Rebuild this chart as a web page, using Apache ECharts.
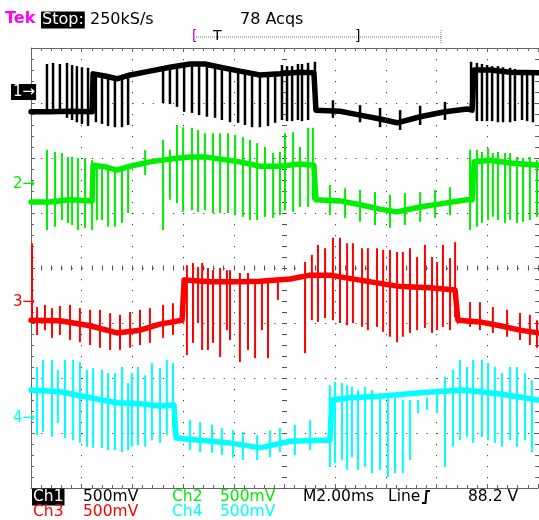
<!DOCTYPE html>
<html>
<head>
<meta charset="utf-8">
<title>Tek scope capture</title>
<script src="https://cdn.jsdelivr.net/npm/echarts@6/dist/echarts.min.js"></script>
<style>
  html, body { margin: 0; padding: 0; background: #fff; }
  #scope { width: 539px; height: 520px; }
</style>
</head>
<body>
<div id="scope"></div>
<script>
// x = time in ms (2 ms/div, 0 at screen centre), y = screen divisions (0 = centre line)

// channel 1 (black): slow envelope of the trace, then switching pulses [t, top, bottom]
const ch1Trace = [
  [-10, 2.84], [-9.25, 2.84], [-8.46, 2.85], [-7.59, 2.84], [-7.55, 3.53], [-7.08, 3.49],
  [-6.61, 3.44], [-6.09, 3.51], [-5.31, 3.58], [-4.52, 3.65], [-3.73, 3.71], [-3.14, 3.71],
  [-2.54, 3.65], [-1.76, 3.58], [-0.97, 3.51], [-0.18, 3.53], [0.61, 3.56], [1.16, 3.55],
  [1.24, 2.87], [2.19, 2.85], [2.98, 2.78], [3.77, 2.71], [4.44, 2.64], [5.35, 2.75],
  [6.33, 2.84], [7.20, 2.89], [7.40, 2.87], [7.48, 3.60], [8.11, 3.60], [8.90, 3.56], [10, 3.55]
];
const ch1Pulses = [
  [-9.37, 3.71, 2.84], [-9.13, 3.73, 2.84], [-8.86, 3.71, 2.80], [-8.58, 3.73, 2.73],
  [-8.38, 3.69, 2.69], [-8.19, 3.67, 2.65], [-7.99, 3.65, 2.62], [-7.75, 3.64, 2.58],
  [-7.44, 3.53, 2.65], [-7.20, 3.51, 2.62], [-6.96, 3.47, 2.58], [-6.69, 3.44, 2.56],
  [-6.41, 3.45, 2.56], [-6.17, 3.49, 2.60],
  [-4.79, 3.64, 3.00], [-4.52, 3.65, 2.98], [-4.24, 3.67, 2.93], [-3.96, 3.69, 2.84],
  [-3.65, 3.71, 2.82], [-3.37, 3.71, 2.78], [-3.06, 3.71, 2.75], [-2.74, 3.69, 2.73],
  [-2.47, 3.67, 2.69], [-2.15, 3.64, 2.65], [-1.83, 3.62, 2.64], [-1.56, 3.58, 2.60],
  [-1.28, 3.56, 2.56], [-0.97, 3.53, 2.56], [-0.65, 3.51, 2.58], [-0.37, 3.53, 2.64],
  [-0.10, 3.69, 2.69], [0.10, 3.67, 2.67], [0.30, 3.67, 2.67], [0.53, 3.71, 2.69],
  [0.69, 3.71, 2.67], [0.93, 3.73, 2.69], [1.20, 3.75, 2.87],
  [1.91, 3.05, 2.73], [2.98, 2.96, 2.65], [3.77, 2.91, 2.56], [4.56, 2.87, 2.51],
  [5.35, 2.95, 2.60], [6.33, 3.02, 2.69],
  [7.36, 3.75, 2.87], [7.59, 3.73, 2.67], [7.79, 3.71, 2.67], [7.99, 3.69, 2.67],
  [8.19, 3.67, 2.67], [8.42, 3.67, 2.65], [8.62, 3.65, 2.65], [8.90, 3.64, 2.65],
  [9.09, 3.62, 2.67], [9.37, 3.60, 2.69], [9.57, 3.60, 2.67], [9.80, 3.60, 2.65]
];

// channel 2 (green)
const ch2Trace = [
  [-10, 1.20], [-9.25, 1.20], [-8.46, 1.24], [-7.59, 1.22], [-7.55, 1.87], [-7.08, 1.84],
  [-6.61, 1.78], [-6.09, 1.85], [-5.31, 1.93], [-4.52, 1.98], [-3.73, 2.02], [-3.14, 2.02],
  [-2.54, 1.98], [-1.76, 1.93], [-0.97, 1.85], [-0.18, 1.85], [0.61, 1.89], [1.16, 1.87],
  [1.24, 1.24], [2.19, 1.22], [2.98, 1.15], [3.77, 1.07], [4.44, 1.02], [5.35, 1.11],
  [6.33, 1.18], [7.20, 1.24], [7.40, 1.24], [7.48, 1.93], [8.11, 1.96], [8.90, 1.91], [10, 1.87]
];
const ch2Pulses = [
  [-9.37, 2.15, 0.69], [-9.05, 2.11, 0.75], [-8.78, 2.09, 0.87], [-8.54, 2.02, 0.82],
  [-8.38, 2.02, 0.78], [-8.15, 2.00, 0.69], [-7.87, 2.00, 0.73], [-7.59, 1.96, 0.69],
  [-7.40, 1.87, 0.87], [-7.20, 1.87, 0.87], [-6.96, 1.84, 0.75], [-6.69, 1.78, 0.75],
  [-6.41, 1.82, 0.82], [-6.17, 1.85, 1.00], [-5.50, 2.15, 1.69],
  [-4.79, 2.33, 0.69], [-4.52, 2.15, 1.24], [-4.24, 2.60, 1.18], [-4.00, 2.56, 1.02],
  [-3.65, 2.55, 1.05], [-3.41, 2.51, 1.02], [-3.14, 2.45, 1.05], [-2.82, 2.45, 1.00],
  [-2.54, 2.45, 1.00], [-2.23, 2.45, 1.00], [-1.95, 2.42, 0.96], [-1.64, 2.38, 0.93],
  [-1.36, 2.33, 0.87], [-1.08, 2.27, 0.87], [-0.77, 2.20, 0.93], [-0.45, 2.09, 0.91],
  [-0.18, 2.11, 0.96], [0.02, 2.45, 1.05], [0.34, 2.47, 1.02], [0.61, 2.20, 1.11],
  [0.93, 2.55, 1.11], [1.12, 2.55, 1.24],
  [1.79, 1.51, 0.96], [2.39, 1.45, 0.91], [2.98, 1.42, 0.84], [3.57, 1.38, 0.78],
  [4.16, 1.33, 0.73], [4.75, 1.36, 0.78], [5.35, 1.38, 0.84], [5.94, 1.42, 0.91], [6.53, 1.47, 0.96],
  [7.32, 2.15, 0.69], [7.59, 2.15, 0.75], [7.79, 2.11, 0.82], [8.03, 2.18, 0.87],
  [8.22, 2.09, 0.93], [8.42, 2.11, 0.87], [8.70, 2.09, 0.82], [8.90, 2.09, 0.87],
  [9.17, 2.02, 0.82], [9.41, 2.00, 0.84], [9.68, 2.02, 0.87], [9.96, 1.96, 0.93]
];

// channel 3 (red)
const ch3Trace = [
  [-10, -0.95], [-8.86, -0.96], [-7.67, -1.05], [-6.61, -1.18], [-5.70, -1.13], [-4.91, -1.02],
  [-4.04, -0.95], [-3.96, -0.22], [-2.94, -0.25], [-1.76, -0.25], [-0.97, -0.24], [0.22, -0.20],
  [1.01, -0.13], [1.79, -0.13], [2.98, -0.22], [4.44, -0.33], [5.74, -0.36], [6.73, -0.40],
  [6.84, -0.95], [7.71, -0.98], [8.50, -1.05], [9.29, -1.13], [10, -1.18]
];
const ch3Pulses = [
  [-9.96, 0.45, -0.95],
  [-9.76, -0.71, -1.22], [-9.45, -0.67, -1.13], [-9.17, -0.73, -1.27], [-8.86, -0.69, -1.22],
  [-8.46, -0.67, -1.31], [-8.07, -0.73, -1.35], [-7.67, -0.76, -1.40], [-7.28, -0.76, -1.45],
  [-6.88, -0.82, -1.49], [-6.49, -0.85, -1.49], [-6.09, -0.80, -1.45], [-5.70, -0.76, -1.40],
  [-5.31, -0.73, -1.36], [-4.79, -0.67, -1.27], [-4.40, -0.64, -1.22],
  [-3.85, 0.05, -1.58], [-3.61, 0.09, -1.36], [-3.41, 0.02, -1.00], [-3.25, 0.09, -1.49],
  [-3.02, 0.00, -1.49], [-2.82, -0.04, -1.36], [-2.54, 0.00, -1.62], [-2.27, -0.04, -1.13],
  [-2.15, -0.04, -1.31], [-1.76, -0.09, -1.71], [-1.44, -0.09, -1.49], [-1.16, -0.22, -1.64],
  [-0.89, -0.22, -1.13], [-0.65, -0.18, -1.64], [-0.26, -0.22, -0.58],
  [0.81, 0.11, -1.55], [1.08, 0.24, -0.95], [1.32, 0.42, -0.98], [1.60, 0.36, -0.91],
  [1.91, 0.55, -0.95], [2.19, 0.55, -1.00], [2.47, 0.45, -1.04], [2.70, 0.45, -1.00],
  [3.06, 0.36, -1.07], [3.29, 0.36, -1.13], [3.65, 0.36, -1.07], [3.89, 0.33, -1.16],
  [4.16, 0.33, -1.25], [4.44, 0.29, -1.35], [4.67, 0.29, -1.25], [4.95, 0.36, -1.18],
  [5.23, 0.20, -1.13], [5.54, 0.42, -1.09], [5.82, 0.20, -1.18], [6.02, 0.11, -1.13],
  [6.25, 0.42, -1.07], [6.53, 0.18, -1.13], [6.73, 0.47, -0.89],
  [7.32, -0.62, -1.07], [7.71, -0.62, -1.13], [8.22, -0.71, -1.18], [8.78, -0.76, -1.25],
  [9.29, -0.82, -1.31], [9.68, -0.85, -1.40], [9.96, -0.95, -1.45]
];

// channel 4 (cyan)
const ch4Trace = [
  [-10, -2.22], [-8.86, -2.25], [-7.67, -2.36], [-6.61, -2.45], [-5.70, -2.47], [-4.91, -2.51],
  [-4.36, -2.49], [-4.28, -3.09], [-3.33, -3.13], [-2.15, -3.18], [-0.97, -3.27], [0.22, -3.15],
  [1.40, -3.13], [1.79, -3.13], [1.87, -2.40], [2.58, -2.36], [3.77, -2.33], [5.35, -2.27],
  [7.04, -2.22], [8.50, -2.29], [10, -2.40]
];
const ch4Pulses = [
  [-9.76, -1.80, -3.04], [-9.53, -1.67, -2.98], [-9.17, -1.67, -3.07], [-8.94, -1.85, -2.82],
  [-8.66, -1.67, -3.09], [-8.34, -1.67, -3.13], [-8.07, -1.71, -3.18], [-7.79, -1.85, -3.25],
  [-7.55, -1.82, -3.27], [-7.20, -1.85, -3.27], [-6.96, -1.91, -3.31], [-6.69, -1.91, -3.31],
  [-6.41, -1.80, -3.35], [-6.17, -2.09, -3.31], [-6.02, -1.91, -3.25], [-5.78, -1.80, -3.22],
  [-5.50, -1.95, -3.25], [-5.23, -1.73, -3.13], [-4.91, -1.82, -3.18], [-4.64, -1.67, -3.04],
  [-4.40, -1.73, -2.89],
  [-3.73, -2.76, -3.31], [-3.33, -2.80, -3.35], [-2.86, -2.85, -3.36], [-2.47, -2.91, -3.40],
  [-2.03, -2.95, -3.45], [-1.64, -2.98, -3.49], [-1.08, -3.04, -3.49], [-0.57, -2.95, -3.44],
  [-0.18, -2.91, -3.35], [0.41, -2.85, -3.40], [1.01, -2.76, -3.31],
  [1.79, -2.13, -3.62], [1.99, -2.07, -3.55], [2.27, -2.09, -3.49], [2.47, -2.13, -3.67],
  [2.66, -2.16, -3.44], [2.90, -2.22, -3.67], [3.18, -2.16, -3.62], [3.45, -2.22, -3.73],
  [3.77, -2.27, -3.67], [4.08, -2.35, -3.80], [4.36, -2.35, -3.73], [4.67, -2.40, -3.73],
  [4.95, -2.40, -3.49], [5.27, -2.40, -2.64], [5.62, -2.36, -2.58], [6.02, -2.27, -2.64],
  [6.33, -1.98, -3.62], [6.65, -1.85, -3.25], [6.92, -1.67, -3.13], [7.20, -1.80, -3.07],
  [7.44, -1.67, -3.18], [7.79, -1.67, -3.07], [8.03, -1.73, -3.13], [8.30, -1.80, -3.18],
  [8.58, -1.91, -3.25], [8.90, -1.80, -3.13], [9.17, -1.80, -3.25], [9.49, -1.91, -3.13],
  [9.76, -2.04, -3.35]
];

const channelNames = ["Ch1", "Ch2", "Ch3", "Ch4"];
const channelScales = ["500mV", "500mV", "500mV", "500mV"];
const channelColors = ["#000000", "#00ee00", "#ff0000", "#00ffff"];
const channelLevels = [3.2, 1.53, -0.62, -2.73]; // ground marker positions (div)

const FONT = '"DejaVu Sans", sans-serif';
const chart = echarts.init(document.getElementById("scope"));

const gridBox = { left: 31, right: 1, top: 48, height: 440, outerBoundsMode: "none" };

function frameAxis(dim, gridIndex, position, extra) {
  const isX = dim === "x";
  return Object.assign({
    type: "value",
    gridIndex,
    position,
    min: isX ? -10 : -4,
    max: isX ? 10 : 4,
    interval: isX ? 2 : 1,
    axisLabel: { show: false },
    axisLine: { show: true, onZero: false, lineStyle: { color: "#666", width: 1 } },
    axisTick: { show: true, inside: true, length: 4, lineStyle: { color: "#666" } },
    minorTick: { show: true, splitNumber: 5, length: 3, lineStyle: { color: "#666" } },
    splitLine: { show: false }
  }, extra || {});
}

// centre cross: ticks on both sides of the centre lines (two extra overlaid grids)
function centreAxis(dim, gridIndex, inside) {
  return frameAxis(dim, gridIndex, dim === "x" ? "bottom" : "left", {
    axisLine: { show: true, onZero: true, lineStyle: { opacity: 0 } },
    axisTick: { show: true, inside, length: 2.5, lineStyle: { color: "#555" } },
    minorTick: { show: true, splitNumber: 5, length: 2.5, lineStyle: { color: "#555" } }
  });
}

function pulseSeries(data, color, width) {
  return {
    type: "custom",
    data,
    silent: true,
    animation: false,
    clip: true,
    z: 3,
    renderItem: function (params, api) {
      const a = api.coord([api.value(0), api.value(1)]);
      const b = api.coord([api.value(0), api.value(2)]);
      return {
        type: "line",
        shape: { x1: a[0], y1: a[1], x2: b[0], y2: b[1] },
        style: { stroke: color, lineWidth: width }
      };
    }
  };
}

function traceSeries(data, color, width) {
  return {
    type: "line",
    data,
    symbol: "none",
    silent: true,
    animation: false,
    z: 4,
    lineStyle: { color, width, join: "round", cap: "round" }
  };
}

const txt = (text, x, y, fill, extra) => ({
  type: "text", x, y, silent: true, z: 10,
  style: Object.assign({ text, fill, font: "15px " + FONT, verticalAlign: "middle" }, extra || {})
});

const graphics = [
  txt("Tek", 5, 19, "#ff00ff", { font: "bold 16px " + FONT }),
  txt("Stop:", 41, 20, "#ffffff", { font: "16px " + FONT, backgroundColor: "#000", padding: [1, 1, 0, 1] }),
  txt("250kS/s", 90, 20, "#000", { font: "16px " + FONT }),
  txt("78 Acqs", 240, 20, "#000", { font: "16px " + FONT }),
  { type: "line", silent: true, shape: { x1: 196, y1: 37, x2: 441, y2: 37 },
    style: { stroke: "#777", lineWidth: 1, lineDash: [1, 1] } },
  txt("[", 192, 36, "#cc00cc", { font: "14px " + FONT }),
  txt("T", 213, 36, "#000", { font: "14px " + FONT }),
  txt("]", 355, 36, "#000", { font: "14px " + FONT }),
  { type: "line", silent: true, shape: { x1: 441, y1: 30, x2: 441, y2: 43 },
    style: { stroke: "#777", lineWidth: 1, lineDash: [1, 1] } },

  txt(channelNames[0], 32, 497, "#ffffff", { font: "15.5px " + FONT, backgroundColor: "#000", padding: [1, 1, 0, 1] }),
  txt(channelScales[0], 83, 497, channelColors[0], { font: "15.5px " + FONT }),
  txt(channelNames[1], 172, 497, channelColors[1], { font: "15.5px " + FONT }),
  txt(channelScales[1], 220, 497, channelColors[1], { font: "15.5px " + FONT }),
  txt("M2.00ms", 303, 497, "#000", { font: "15.5px " + FONT }),
  txt("Line", 388, 497, "#000", { font: "15.5px " + FONT }),
  { type: "polyline", silent: true, shape: { points: [[422, 503], [425.5, 503], [426.5, 491], [430, 491]] },
    style: { stroke: "#000", lineWidth: 2, fill: null } },
  txt("88.2 V", 468, 497, "#000", { font: "15.5px " + FONT }),
  txt(channelNames[2], 33, 512, channelColors[2], { font: "15.5px " + FONT }),
  txt(channelScales[2], 83, 512, channelColors[2], { font: "15.5px " + FONT }),
  txt(channelNames[3], 172, 512, channelColors[3], { font: "15.5px " + FONT }),
  txt(channelScales[3], 220, 512, channelColors[3], { font: "15.5px " + FONT })
];

// ground markers on the left edge
const markerY = channelLevels.map(v => 268 - v * 55);
graphics.push(txt("1\u2192", 11, markerY[0], "#ffffff", { backgroundColor: "#000", padding: [1, 1, 0, 2] }));
graphics.push(txt("2\u2192", 13, markerY[1], channelColors[1]));
graphics.push(txt("3\u2192", 13, markerY[2], channelColors[2]));
graphics.push(txt("4\u2192", 13, markerY[3], channelColors[3]));

chart.setOption({
  backgroundColor: "#ffffff",
  animation: false,
  grid: [
    Object.assign({}, gridBox),
    Object.assign({}, gridBox),
    Object.assign({}, gridBox)
  ],
  xAxis: [
    frameAxis("x", 0, "bottom", {
      splitLine: { show: true, lineStyle: { color: "#444", width: 1, type: [1.2, 9.8] } }
    }),
    frameAxis("x", 0, "top"),
    centreAxis("x", 1, true),
    centreAxis("x", 2, false)
  ],
  yAxis: [
    frameAxis("y", 0, "left", {
      splitLine: { show: true, lineStyle: { color: "#444", width: 1, type: [1.2, 8.94] } }
    }),
    frameAxis("y", 0, "right", { axisLine: { show: false, onZero: false } }),
    centreAxis("y", 1, true),
    centreAxis("y", 2, false)
  ],
  series: [
    pulseSeries(ch4Pulses, channelColors[3], 2),
    traceSeries(ch4Trace, channelColors[3], 5.5),
    pulseSeries(ch3Pulses, channelColors[2], 2),
    traceSeries(ch3Trace, channelColors[2], 5.5),
    pulseSeries(ch2Pulses, channelColors[1], 2),
    traceSeries(ch2Trace, channelColors[1], 5.5),
    pulseSeries(ch1Pulses, channelColors[0], 2.5),
    traceSeries(ch1Trace, channelColors[0], 5.5)
  ],
  graphic: graphics
});
</script>
</body>
</html>
